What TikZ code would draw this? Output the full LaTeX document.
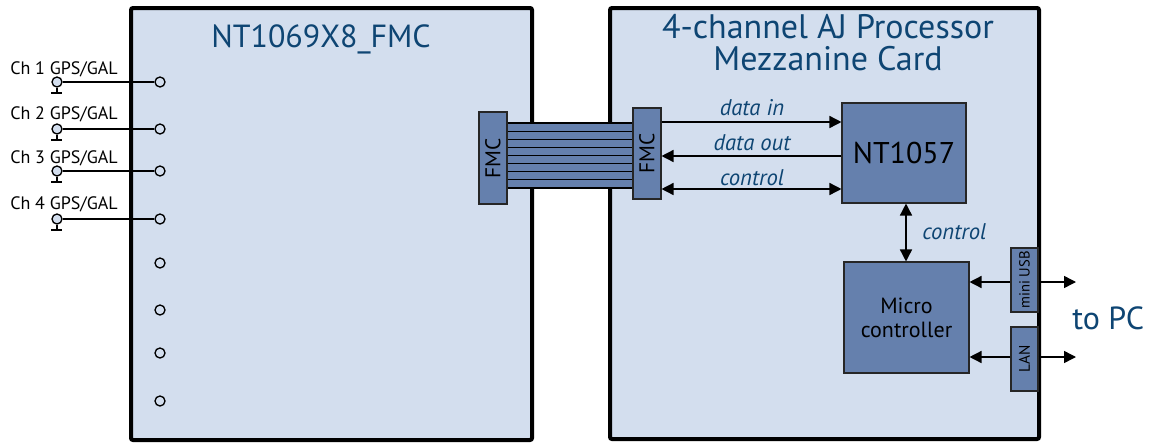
\documentclass[tikz,border=0pt]{standalone}
\usepackage{fontspec}
\setmainfont{PT Sans}
\usetikzlibrary{arrows.meta}
\definecolor{lightbg}{HTML}{D3DEEE}
\definecolor{midblue}{HTML}{6580AD}
\definecolor{darktext}{HTML}{0E4573}
\newcommand{\fs}[1]{\fontsize{#1}{1.15\dimexpr#1pt\relax}\selectfont}
\begin{document}
\begin{tikzpicture}[x=0.75pt,y=-0.75pt,
  board/.style={draw=black, line width=3pt, fill=lightbg, rounded corners=1.5pt, inner sep=0pt},
  chip/.style={draw=black!85, line width=0.8pt, fill=midblue, inner sep=0pt, align=center},
  arr/.style={-{Triangle[length=9pt,width=9pt]}, line width=1.1pt},
  darr/.style={{Triangle[length=9pt,width=9pt]}-{Triangle[length=9pt,width=9pt]}, line width=1.1pt},
  lbl/.style={text=darktext, font=\fs{17}\itshape, inner sep=0pt, anchor=base},
  pin/.style={circle, draw=black, line width=1pt, fill=lightbg, minimum size=7.5pt, inner sep=0pt},
  ant/.style={circle, draw=black, line width=1pt, fill=lightbg, minimum size=7.5pt, inner sep=0pt},
  chl/.style={font=\fs{13.5}, inner sep=0pt, anchor=base west},
  wire/.style={line width=1pt}]
\useasboundingbox (0,0) rectangle (1163,443);
% boards
\node[board, minimum width=300.75pt, minimum height=324pt] (lb) at (331.5,224) {};
\node[board, minimum width=321.75pt, minimum height=323.25pt] (rb) at (824.5,223.5) {};
% titles
\node[text=darktext, font=\fs{24}, inner sep=0pt, anchor=base] (lt) at (321,47) {NT1069X8\_FMC};
\node[text=darktext, font=\fs{25.5}, inner sep=0pt, anchor=base] (rt1) at (828,38) {4-channel AJ Processor};
\node[text=darktext, font=\fs{25.5}, inner sep=0pt, anchor=base] (rt2) at (828,70) {Mezzanine Card};
% channels
\foreach \i/\yy/\by in {1/82/74, 2/129/119, 3/171/163, 4/219/209}{
  \node[chl] (cl\i) at (10,\by) {Ch \i\ GPS/GAL};
  \node[ant] (a\i) at (57,\yy) {};
  \node[pin] (p\i) at (160,\yy) {};
  \coordinate (g\i) at (57,93+\yy-82);
  \draw[wire] (a\i) -- (p\i);
  \draw[wire] (a\i.south) -- (g\i);
  \draw[wire] ([xshift=-4.5pt]g\i) -- ([xshift=4pt]g\i);
}
\foreach \i/\yy in {5/263, 6/310, 7/353, 8/401}{
  \node[pin] (p\i) at (160,\yy) {};
}
% FMC connectors and ribbon
\node[chip, minimum width=21pt, minimum height=69pt] (lf) at (493,158) {};
\node[rotate=90, font=\fs{16}, inner sep=0pt] at (lf) {FMC};
\node[chip, minimum width=21pt, minimum height=68.25pt] (rf) at (647,153.5) {};
\node[rotate=90, font=\fs{16}, inner sep=0pt] at (rf) {FMC};
\fill[midblue] (lf.east |- 0,123) rectangle (rf.west |- 0,188);
\foreach \k in {0,...,8}{
  \draw[line width=0.9pt] (lf.east |- 0,{123+\k*8.125}) -- (rf.west |- 0,{123+\k*8.125});
}
% chips
\node[chip, minimum width=93pt, minimum height=75pt, font=\fs{22.5}] (nt) at (904,153) {NT1057};
\node[chip, minimum width=93.75pt, minimum height=83.25pt, font=\fs{16.5}] (mc) at (906.5,317.5) {Micro\\[-1pt]controller};
\node[chip, minimum width=20.25pt, minimum height=48pt] (usb) at (1024.5,280) {};
\node[rotate=90, font=\fs{11}, inner sep=0pt] at (usb) {mini USB};
\node[chip, minimum width=20.25pt, minimum height=48pt] (lan) at (1024.5,359) {};
\node[rotate=90, font=\fs{11.5}, inner sep=0pt] at (lan) {LAN};
% arrows
\draw[arr] (rf.east |- 0,122) -- (nt.west |- 0,122);
\draw[arr] (nt.west |- 0,156) -- (rf.east |- 0,156);
\draw[darr] (rf.east |- 0,189) -- (nt.west |- 0,189);
\node[lbl] (l1) at (752,115.5) {data in};
\node[lbl] (l2) at (752,150.5) {data out};
\node[lbl] (l3) at (752,185) {control};
\draw[darr] (906,0 |- nt.south) -- (906,0 |- mc.north);
\node[lbl, anchor=base west] (l4) at (922,239) {control};
\coordinate (o1) at (1076,282);
\coordinate (o2) at (1076,357);
\draw[arr] (usb.west |- o1) -- (mc.east |- o1);
\draw[arr] (usb.east |- o1) -- (o1);
\draw[arr] (lan.west |- o2) -- (mc.east |- o2);
\draw[arr] (lan.east |- o2) -- (o2);
\node[text=darktext, font=\fs{24}, inner sep=0pt, anchor=base west] (pc) at (1072,329) {to PC};
\end{tikzpicture}
\end{document}
